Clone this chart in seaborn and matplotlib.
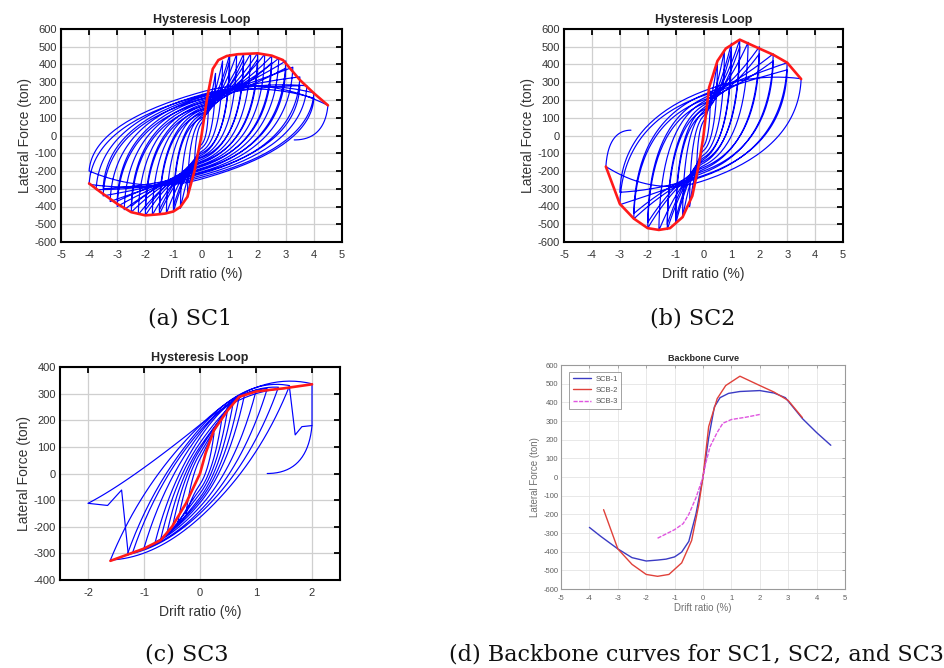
import numpy as np
import pandas as pd
import matplotlib
matplotlib.use("Agg")
import matplotlib.pyplot as plt
import seaborn as sns

# ------------------------------------------------------------------
# Backbone (envelope) curves
# ------------------------------------------------------------------
sc1_bb_drift = [-4.0, -3.6, -3.0, -2.5, -2.0, -1.6, -1.3, -1.0, -0.75, -0.5, -0.25, 0.0,
                0.2, 0.4, 0.6, 0.9, 1.3, 2.0, 2.5, 2.9, 3.5, 4.0, 4.5]
sc1_bb_force = [-270, -318, -385, -432, -450, -445, -440, -428, -402, -345, -200, 0,
                210, 375, 425, 448, 458, 463, 450, 425, 313, 238, 170]

sc2_bb_drift = [-3.5, -3.0, -2.5, -2.0, -1.6, -1.2, -0.75, -0.4, -0.15, 0.0,
                0.2, 0.5, 0.8, 1.3, 2.0, 2.5, 3.0, 3.5]
sc2_bb_force = [-175, -385, -468, -522, -532, -522, -460, -340, -150, 0,
                270, 420, 490, 540, 490, 455, 410, 318]

sc3_bb_drift = [-1.6, -1.0, -0.7, -0.5, -0.25, 0.0, 0.1, 0.25, 0.5, 0.7, 1.0, 1.5, 2.0]
sc3_bb_force = [-328, -282, -250, -200, -112, 0, 76, 163, 239, 288, 308, 320, 335]

# ------------------------------------------------------------------
# Hysteresis loops: sequence of turning points, the force where each
# branch crosses zero drift, and the kind of branch that reaches it
# (m = move, c = full branch, l = straight, u = partial unloading)
# ------------------------------------------------------------------
sc1_turn_drift = [0.25, -0.25, 0.5, -0.5, 0.75, -0.75, 1.0, -1.0, 1.0, -1.0, 1.25, -1.25,
                  1.5, -1.5, 1.5, -1.5, 1.75, -1.75, 2.0, -2.0, 2.0, -2.0, 2.25, -2.25,
                  2.5, -2.5, 2.5, -2.5, 2.75, -2.75, 3.0, -3.0, 3.0, -3.0, 3.25, -3.25,
                  3.5, -3.5, 3.5, -3.5, 3.75, -3.75, 4.0, -4.0, 4.0, -4.0, 4.5, 3.3]
sc1_turn_force = [200, -200, 350, -350, 420, -410, 455, -430, 420, -400, 458, -440,
                  460, -445, 430, -420, 462, -448, 465, -450, 430, -420, 458, -445,
                  448, -432, 410, -400, 435, -418, 420, -400, 380, -370, 385, -372,
                  330, -340, 280, -300, 280, -305, 240, -275, 210, -200, 170, -25]
sc1_zero_force = [0, -50, 70, -70, 90, -90, 110, -110, 100, -100, 120, -120,
                  135, -135, 125, -125, 145, -145, 155, -155, 145, -150, 165, -165,
                  175, -175, 165, -170, 185, -185, 195, -195, 185, -190, 205, -205,
                  215, -215, 205, -210, 220, -225, 230, -235, 225, -245, 245, 0]
sc1_kind = "m" + "c" * 46 + "u"

sc2_turn_drift = [0.25, -0.25, 0.5, -0.5, 0.75, -0.75, 1.0, -1.0, 1.0, -1.0, 1.3, -1.3,
                  1.3, -1.3, 1.6, -1.6, 2.0, -2.0, 2.0, -2.0, 2.5, -2.5, 2.5, -2.5,
                  3.0, -3.0, 3.0, -3.0, 3.5, -3.5, -2.6]
sc2_turn_force = [250, -250, 420, -400, 480, -460, 520, -500, 480, -470, 540, -530,
                  500, -500, 525, -535, 500, -522, 460, -490, 460, -470, 420, -440,
                  410, -390, 370, -320, 320, -175, 30]
sc2_zero_force = [0, -60, 80, -85, 110, -110, 135, -135, 125, -125, 155, -155,
                  145, -145, 170, -170, 190, -190, 180, -180, 210, -210, 200, -200,
                  230, -230, 225, -225, 250, -255, 0]
sc2_kind = "m" + "c" * 29 + "u"

sc3_turn_drift = [0.25, -0.25, 0.4, -0.4, 0.5, -0.5, 0.6, -0.6, 0.7, -0.7, 0.8, -0.8,
                  1.0, -1.0, 1.2, -1.2, 1.4, -1.3, 1.6, -1.6, 2.0, 2.0, 1.2,
                  -1.28, -1.4, -1.65, -2.0, 1.6, 1.7, 1.82, 2.0]
sc3_turn_force = [150, -150, 220, -190, 250, -210, 275, -235, 288, -245, 300, -258,
                  310, -280, 318, -295, 324, -305, 330, -325, 337, 180, 0,
                  -306, -62, -120, -112, 320, 145, 176, 180]
sc3_zero_force = [0, -40, 55, -60, 75, -75, 90, -90, 100, -100, 115, -110,
                  135, -125, 150, -140, 160, -150, 170, -165, 180, 0, 0,
                  0, 0, 0, 0, 183, 0, 0, 0]
sc3_kind = "m" + "c" * 20 + "l" + "u" + "m" + "lll" + "c" + "lll"


def bez(p0, p1, p2, n=40):
    t = np.linspace(0.0, 1.0, n)[:, None]
    return (1 - t) ** 2 * p0 + 2 * (1 - t) * t * p1 + t ** 2 * p2


def loop_frame(drift, force, zero, kind, kx, kf):
    rows = []
    seg = 0
    prev = None
    for x, f, z, k in zip(drift, force, zero, kind):
        b = np.array([x, f], dtype=float)
        if k == "m" or prev is None:
            seg += 1
            pts = b[None, :]
        elif k == "l":
            pts = np.vstack([prev, b])
        elif k == "u":
            ctrl = np.array([prev[0] + 0.1 * (b[0] - prev[0]), b[1]])
            pts = bez(prev, ctrl, b)
        else:
            knee = np.array([prev[0] * (1 - kx), kf * z])
            cross = np.array([0.0, z])
            slope = (cross[1] - knee[1]) / (cross[0] - knee[0])
            q = np.array([b[0] / 2, z + slope * b[0] / 2])
            pts = np.vstack([bez(prev, knee, cross), bez(cross, q, b)[1:]])
        for p in pts:
            rows.append((p[0], p[1], seg))
        prev = b
    return pd.DataFrame(rows, columns=["drift", "force", "seg"])


loops = [
    loop_frame(sc1_turn_drift, sc1_turn_force, sc1_zero_force, sc1_kind, 0.03, 0.3),
    loop_frame(sc2_turn_drift, sc2_turn_force, sc2_zero_force, sc2_kind, 0.03, 0.3),
    loop_frame(sc3_turn_drift, sc3_turn_force, sc3_zero_force, sc3_kind, 0.35, -0.2),
]
backbones = [
    pd.DataFrame({"drift": sc1_bb_drift, "force": sc1_bb_force}),
    pd.DataFrame({"drift": sc2_bb_drift, "force": sc2_bb_force}),
    pd.DataFrame({"drift": sc3_bb_drift, "force": sc3_bb_force}),
]

# ------------------------------------------------------------------
sns.set_theme(style="white")
plt.rcParams["font.family"] = ["Liberation Sans", "DejaVu Sans"]
plt.rcParams["axes.unicode_minus"] = False

W, H = 944, 668
fig = plt.figure(figsize=(W / 100, H / 100), dpi=100)


def box(l, t, r, b):
    return [l / W, 1 - b / H, (r - l) / W, (b - t) / H]


hyst_boxes = [box(61, 29, 342, 242), box(564, 29, 843, 242), box(60, 367, 340, 580)]
hyst_x = [(-5, 5, range(-5, 6)), (-5, 5, range(-5, 6)), (-2.5, 2.5, range(-2, 3))]
hyst_y = [(-600, 600, range(-600, 601, 100)), (-600, 600, range(-600, 601, 100)),
          (-400, 400, range(-400, 401, 100))]

for i in range(3):
    ax = fig.add_axes(hyst_boxes[i])
    sns.lineplot(data=loops[i], x="drift", y="force", units="seg", estimator=None,
                 sort=False, color="#0000ff", lw=0.85, ax=ax, legend=False)
    sns.lineplot(data=backbones[i], x="drift", y="force", sort=False, estimator=None,
                 color="#ff1a1a", lw=1.9, ax=ax, legend=False)
    x0, x1, xt = hyst_x[i]
    y0, y1, yt = hyst_y[i]
    ax.set_xlim(x0, x1)
    ax.set_ylim(y0, y1)
    ax.set_xticks(list(xt))
    ax.set_yticks(list(yt))
    ax.grid(True, color="#cfcfcf", lw=0.9)
    ax.set_axisbelow(True)
    for s in ax.spines.values():
        s.set_color("black")
        s.set_linewidth(1.5)
    ax.tick_params(direction="in", top=True, right=True, length=4, width=1.3,
                   color="black", labelsize=8, labelcolor="#333333", pad=3)
    ax.tick_params(axis="x", pad=6)
    ax.set_title("Hysteresis Loop", fontsize=9, fontweight="bold", pad=4)
    ax.set_xlabel("Drift ratio (%)", fontsize=10, color="#333333", labelpad=5)
    ax.set_ylabel("Lateral Force (ton)", fontsize=10, color="#333333", labelpad=2)

# Backbone comparison panel
axd = fig.add_axes(box(561, 365, 845, 589))
sns.lineplot(x=sc1_bb_drift, y=sc1_bb_force, sort=False, estimator=None, color="#3b3bc4",
             lw=1.0, ax=axd, label="SCB-1")
sns.lineplot(x=sc2_bb_drift, y=sc2_bb_force, sort=False, estimator=None, color="#e0413a",
             lw=1.0, ax=axd, label="SCB-2")
sns.lineplot(x=sc3_bb_drift, y=sc3_bb_force, sort=False, estimator=None, color="#e055e0",
             lw=1.0, ax=axd, label="SCB-3")
axd.lines[2].set_dashes([3, 1])
axd.set_xlim(-5, 5)
axd.set_ylim(-600, 600)
axd.set_xticks(range(-5, 6))
axd.set_yticks(range(-600, 601, 100))
axd.grid(True, color="#e4e4e4", lw=0.6)
for s in axd.spines.values():
    s.set_color("#9a9a9a")
    s.set_linewidth(0.8)
axd.tick_params(direction="in", top=True, right=True, length=2, width=0.6,
                color="#9a9a9a", labelsize=5.5, labelcolor="#606060", pad=2)
axd.tick_params(axis="x", pad=4)
axd.set_title("Backbone Curve", fontsize=6.5, fontweight="bold", pad=3)
axd.set_xlabel("Drift ratio (%)", fontsize=7, color="#707070", labelpad=1)
axd.set_ylabel("Lateral Force (ton)", fontsize=7, color="#707070", labelpad=2)
leg = axd.legend(loc="upper left", fontsize=5.5, frameon=True, fancybox=False,
                 handlelength=2.4, handletextpad=0.6, borderpad=0.45, labelspacing=0.5,
                 bbox_to_anchor=(0.015, 0.985))
leg.get_frame().set_edgecolor("#777777")
leg.get_frame().set_linewidth(0.6)
for t in leg.get_texts():
    t.set_color("#555555")

captions = [("(a) SC1", 190, 318), ("(b) SC2", 693, 318), ("(c) SC3", 187, 655),
            ("(d) Backbone curves for SC1, SC2, and SC3", 696, 655)]
for txt, cx, cy in captions:
    fig.text(cx / W, 1 - cy / H, txt, ha="center", va="center",
             family="DejaVu Serif", fontsize=16, color="#111111")

fig.savefig("out.png", dpi=100)
